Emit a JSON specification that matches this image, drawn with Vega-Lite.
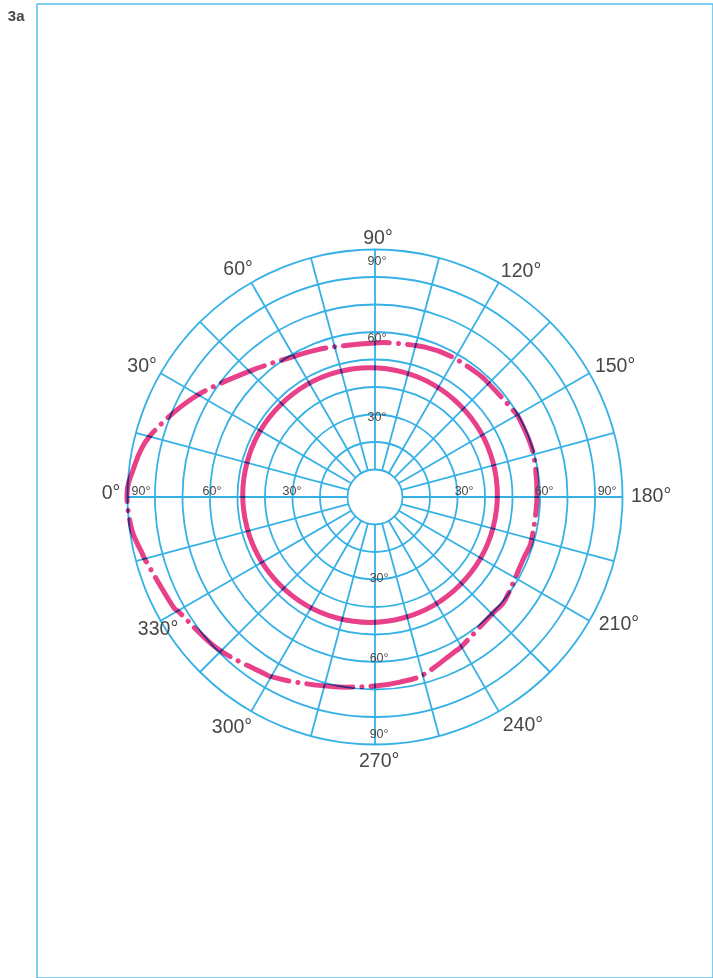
{
  "$schema": "https://vega.github.io/schema/vega-lite/v6.json",
  "width": 676,
  "height": 974,
  "autosize": {"type": "none"},
  "padding": {"left": 37, "top": 4, "right": 0, "bottom": 0},
  "background": "white",
  "config": {
    "view": {"stroke": "#55bfeb", "strokeWidth": 1.5},
    "text": {"font": "Liberation Sans"}
  },
  "datasets": {
    "rings": [{"r": 10}, {"r": 20}, {"r": 30}, {"r": 40}, {"r": 50}, {"r": 60}, {"r": 70}, {"r": 80}, {"r": 90}],
    "spokes": [
      {"angle": 0, "x1": -10, "y1": 0, "x2": -90, "y2": 0},
      {"angle": 15, "x1": -9.659, "y1": 2.588, "x2": -86.93, "y2": 23.29},
      {"angle": 30, "x1": -8.66, "y1": 5, "x2": -77.94, "y2": 45},
      {"angle": 45, "x1": -7.071, "y1": 7.071, "x2": -63.64, "y2": 63.64},
      {"angle": 60, "x1": -5, "y1": 8.66, "x2": -45, "y2": 77.94},
      {"angle": 75, "x1": -2.588, "y1": 9.659, "x2": -23.29, "y2": 86.93},
      {"angle": 90, "x1": 0, "y1": 10, "x2": 0, "y2": 90},
      {"angle": 105, "x1": 2.588, "y1": 9.659, "x2": 23.29, "y2": 86.93},
      {"angle": 120, "x1": 5, "y1": 8.66, "x2": 45, "y2": 77.94},
      {"angle": 135, "x1": 7.071, "y1": 7.071, "x2": 63.64, "y2": 63.64},
      {"angle": 150, "x1": 8.66, "y1": 5, "x2": 77.94, "y2": 45},
      {"angle": 165, "x1": 9.659, "y1": 2.588, "x2": 86.93, "y2": 23.29},
      {"angle": 180, "x1": 10, "y1": 0, "x2": 90, "y2": 0},
      {"angle": 195, "x1": 9.659, "y1": -2.588, "x2": 86.93, "y2": -23.29},
      {"angle": 210, "x1": 8.66, "y1": -5, "x2": 77.94, "y2": -45},
      {"angle": 225, "x1": 7.071, "y1": -7.071, "x2": 63.64, "y2": -63.64},
      {"angle": 240, "x1": 5, "y1": -8.66, "x2": 45, "y2": -77.94},
      {"angle": 255, "x1": 2.588, "y1": -9.659, "x2": 23.29, "y2": -86.93},
      {"angle": 270, "x1": 0, "y1": -10, "x2": 0, "y2": -90},
      {"angle": 285, "x1": -2.588, "y1": -9.659, "x2": -23.29, "y2": -86.93},
      {"angle": 300, "x1": -5, "y1": -8.66, "x2": -45, "y2": -77.94},
      {"angle": 315, "x1": -7.071, "y1": -7.071, "x2": -63.64, "y2": -63.64},
      {"angle": 330, "x1": -8.66, "y1": -5, "x2": -77.94, "y2": -45},
      {"angle": 345, "x1": -9.659, "y1": -2.588, "x2": -86.93, "y2": -23.29}
    ],
    "solid": [
      {"i": 0, "x": -48.1, "y": 0.7},
      {"i": 1, "x": -46.5, "y": 12.7},
      {"i": 2, "x": -41.9, "y": 23.85},
      {"i": 3, "x": -34.5, "y": 33.4},
      {"i": 4, "x": -24.95, "y": 40.8},
      {"i": 5, "x": -13.8, "y": 45.4},
      {"i": 6, "x": -1.8, "y": 47.0},
      {"i": 7, "x": 10.2, "y": 45.4},
      {"i": 8, "x": 21.35, "y": 40.8},
      {"i": 9, "x": 30.9, "y": 33.4},
      {"i": 10, "x": 38.3, "y": 23.85},
      {"i": 11, "x": 42.9, "y": 12.7},
      {"i": 12, "x": 44.5, "y": 0.7},
      {"i": 13, "x": 42.9, "y": -11.3},
      {"i": 14, "x": 38.3, "y": -22.45},
      {"i": 15, "x": 30.9, "y": -32.0},
      {"i": 16, "x": 21.35, "y": -39.4},
      {"i": 17, "x": 10.2, "y": -44.0},
      {"i": 18, "x": -1.8, "y": -45.6},
      {"i": 19, "x": -13.8, "y": -44.0},
      {"i": 20, "x": -24.95, "y": -39.4},
      {"i": 21, "x": -34.5, "y": -32.0},
      {"i": 22, "x": -41.9, "y": -22.45},
      {"i": 23, "x": -46.5, "y": -11.3}
    ],
    "dashed": [
      {"i": 0, "x": -90.2, "y": 0.7},
      {"i": 1, "x": -88.0, "y": 9.8},
      {"i": 2, "x": -82.2, "y": 21.8},
      {"i": 3, "x": -66.2, "y": 36.0},
      {"i": 4, "x": -46.2, "y": 45.5},
      {"i": 5, "x": -30.2, "y": 50.9},
      {"i": 6, "x": -21.1, "y": 53.5},
      {"i": 7, "x": -12.7, "y": 54.9},
      {"i": 8, "x": 0, "y": 56.0},
      {"i": 9, "x": 6.2, "y": 56.0},
      {"i": 10, "x": 18.2, "y": 54.5},
      {"i": 11, "x": 27.3, "y": 51.3},
      {"i": 12, "x": 37.1, "y": 45.1},
      {"i": 13, "x": 41.1, "y": 41.5},
      {"i": 14, "x": 50.2, "y": 31.6},
      {"i": 15, "x": 52.7, "y": 28.0},
      {"i": 16, "x": 57.5, "y": 16.0},
      {"i": 17, "x": 58.9, "y": 0},
      {"i": 18, "x": 57.1, "y": -14.9},
      {"i": 19, "x": 55.6, "y": -19.3},
      {"i": 20, "x": 53.8, "y": -22.9},
      {"i": 21, "x": 47.3, "y": -37.5},
      {"i": 22, "x": 42.9, "y": -42.2},
      {"i": 23, "x": 32.0, "y": -53.8},
      {"i": 24, "x": 28.4, "y": -56.7},
      {"i": 25, "x": 17.5, "y": -64.7},
      {"i": 26, "x": 9.1, "y": -67.3},
      {"i": 27, "x": 0, "y": -68.7},
      {"i": 28, "x": -13.1, "y": -69.1},
      {"i": 29, "x": -27.3, "y": -67.6},
      {"i": 30, "x": -37.1, "y": -65.5},
      {"i": 31, "x": -40.7, "y": -64.0},
      {"i": 32, "x": -57.1, "y": -55.3},
      {"i": 33, "x": -70.9, "y": -42.2},
      {"i": 34, "x": -73.8, "y": -39.3},
      {"i": 35, "x": -82.9, "y": -24.0},
      {"i": 36, "x": -84.7, "y": -20.4},
      {"i": 37, "x": -88.4, "y": -12.0}
    ],
    "angleLabels": [
      {"label": "0°", "x": -96.0, "y": 1.5},
      {"label": "30°", "x": -84.7, "y": 47.6},
      {"label": "60°", "x": -49.8, "y": 82.9},
      {"label": "90°", "x": 1.1, "y": 94.2},
      {"label": "120°", "x": 53.1, "y": 82.2},
      {"label": "150°", "x": 87.3, "y": 47.6},
      {"label": "180°", "x": 100.4, "y": 0.4},
      {"label": "210°", "x": 88.7, "y": -46.2},
      {"label": "240°", "x": 53.8, "y": -82.9},
      {"label": "270°", "x": 1.5, "y": -96.0},
      {"label": "300°", "x": -52.0, "y": -83.6},
      {"label": "330°", "x": -78.9, "y": -48.0}
    ],
    "radialLabels": [
      {"label": "90°", "x": -85.1, "y": 2.2},
      {"label": "60°", "x": -59.3, "y": 2.2},
      {"label": "30°", "x": -30.2, "y": 2.2},
      {"label": "30°", "x": 32.4, "y": 2.2},
      {"label": "60°", "x": 61.5, "y": 2.2},
      {"label": "90°", "x": 84.4, "y": 2.2},
      {"label": "90°", "x": 0.7, "y": 85.8},
      {"label": "60°", "x": 0.7, "y": 57.8},
      {"label": "30°", "x": 0.7, "y": 29.1},
      {"label": "30°", "x": 1.5, "y": -29.5},
      {"label": "60°", "x": 1.5, "y": -58.5},
      {"label": "90°", "x": 1.5, "y": -86.2}
    ],
    "figLabel": [{"label": "3a", "x": -130.5, "y": 174.9}]
  },
  "layer": [
    {
      "data": {"name": "rings"},
      "mark": {"type": "arc", "theta": 0, "theta2": 6.2832, "filled": false, "stroke": "#36b1e6", "strokeWidth": 1.8},
      "encoding": {
        "x": {"datum": 0, "type": "quantitative", "scale": {"domain": [-122.91, 122.91], "nice": false, "zero": false}, "axis": null},
        "y": {"datum": 0, "type": "quantitative", "scale": {"domain": [-174.91, 179.27], "nice": false, "zero": false}, "axis": null},
        "radius": {"field": "r", "type": "quantitative", "stack": null, "scale": {"type": "linear", "domain": [0, 90], "range": [0, 247.5]}}
      }
    },
    {
      "data": {"name": "spokes"},
      "mark": {"type": "rule", "stroke": "#36b1e6", "strokeWidth": 1.8},
      "encoding": {
        "x": {"field": "x1", "type": "quantitative", "scale": {"domain": [-122.91, 122.91], "nice": false, "zero": false}, "axis": null},
        "y": {"field": "y1", "type": "quantitative", "scale": {"domain": [-174.91, 179.27], "nice": false, "zero": false}, "axis": null},
        "x2": {"field": "x2"},
        "y2": {"field": "y2"}
      }
    },
    {
      "data": {"name": "solid"},
      "mark": {"type": "line", "interpolate": "cardinal-closed", "stroke": "#e8418a", "strokeWidth": 5, "blend": "multiply"},
      "encoding": {
        "x": {"field": "x", "type": "quantitative", "scale": {"domain": [-122.91, 122.91], "nice": false, "zero": false}, "axis": null},
        "y": {"field": "y", "type": "quantitative", "scale": {"domain": [-174.91, 179.27], "nice": false, "zero": false}, "axis": null},
        "order": {"field": "i", "type": "quantitative"}
      }
    },
    {
      "data": {"name": "dashed"},
      "mark": {"type": "line", "interpolate": "cardinal-closed", "stroke": "#e8418a", "strokeWidth": 5, "strokeDash": [46, 9, 0.1, 9], "strokeCap": "round", "blend": "multiply"},
      "encoding": {
        "x": {"field": "x", "type": "quantitative", "scale": {"domain": [-122.91, 122.91], "nice": false, "zero": false}, "axis": null},
        "y": {"field": "y", "type": "quantitative", "scale": {"domain": [-174.91, 179.27], "nice": false, "zero": false}, "axis": null},
        "order": {"field": "i", "type": "quantitative"}
      }
    },
    {
      "data": {"name": "angleLabels"},
      "mark": {"type": "text", "fontSize": 19.5, "color": "#474747", "align": "center", "baseline": "middle"},
      "encoding": {
        "x": {"field": "x", "type": "quantitative", "scale": {"domain": [-122.91, 122.91], "nice": false, "zero": false}, "axis": null},
        "y": {"field": "y", "type": "quantitative", "scale": {"domain": [-174.91, 179.27], "nice": false, "zero": false}, "axis": null},
        "text": {"field": "label"}
      }
    },
    {
      "data": {"name": "radialLabels"},
      "mark": {"type": "text", "fontSize": 12.5, "color": "#474747", "align": "center", "baseline": "middle"},
      "encoding": {
        "x": {"field": "x", "type": "quantitative", "scale": {"domain": [-122.91, 122.91], "nice": false, "zero": false}, "axis": null},
        "y": {"field": "y", "type": "quantitative", "scale": {"domain": [-174.91, 179.27], "nice": false, "zero": false}, "axis": null},
        "text": {"field": "label"}
      }
    },
    {
      "data": {"name": "figLabel"},
      "mark": {"type": "text", "fontSize": 15, "fontWeight": "bold", "color": "#474747", "align": "center", "baseline": "middle"},
      "encoding": {
        "x": {"field": "x", "type": "quantitative", "scale": {"domain": [-122.91, 122.91], "nice": false, "zero": false}, "axis": null},
        "y": {"field": "y", "type": "quantitative", "scale": {"domain": [-174.91, 179.27], "nice": false, "zero": false}, "axis": null},
        "text": {"field": "label"}
      }
    }
  ]
}
